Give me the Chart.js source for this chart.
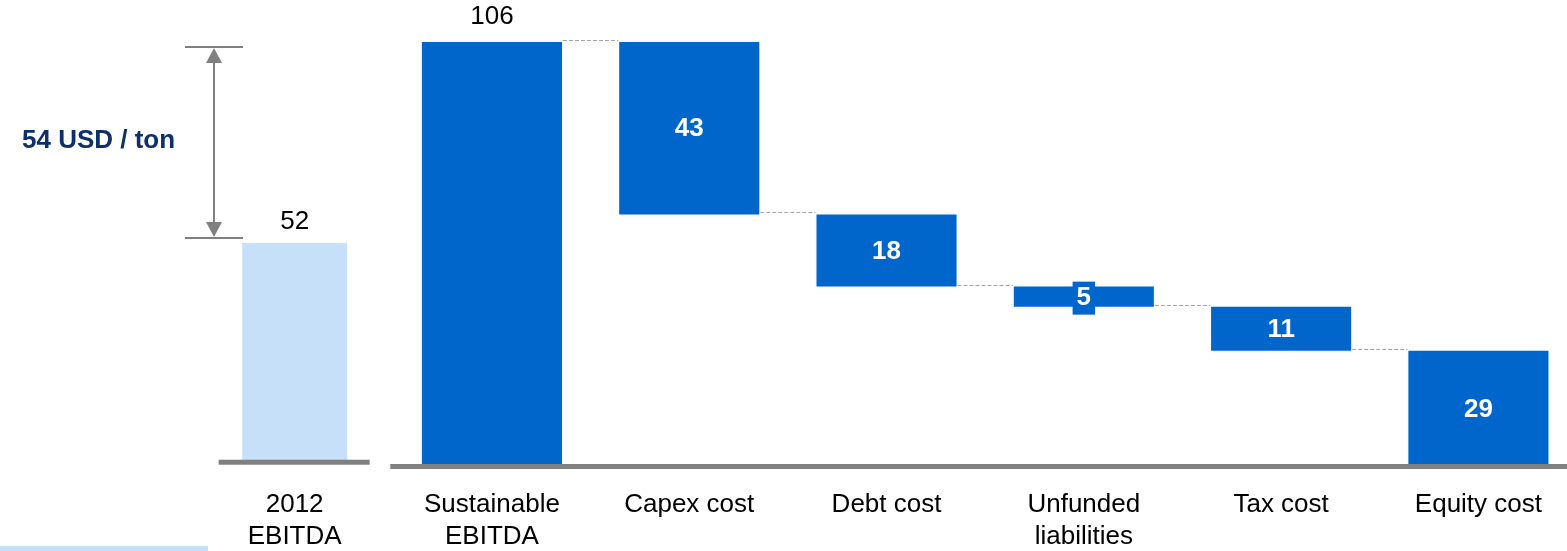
<!DOCTYPE html>
<html>
<head>
<meta charset="utf-8">
<script src="https://cdn.jsdelivr.net/npm/chart.js@4"></script>
<style>
  html, body { margin: 0; padding: 0; background: #fff; overflow: hidden; }
  #wrap { position: relative; width: 1567px; height: 551px; }
  #strip { position: absolute; left: 0; top: 546px; width: 208px; height: 5px; background: #c6e0fa; }
</style>
</head>
<body>
<div id="wrap">
  <canvas id="chart" width="1567" height="551"></canvas>
  <div id="strip"></div>
</div>
<script>
// === Data ===
const categories = [["2012", "EBITDA"], ["Sustainable", "EBITDA"], ["Capex cost"], ["Debt cost"], ["Unfunded", "liabilities"], ["Tax cost"], ["Equity cost"]];
const ebitda2012 = 52;
const sustainableEbitda = 106;
const costs = [43, 18, 5, 11, 29];
const gapLabel = "54 USD / ton";

const FONT = "'Liberation Sans', Arial, sans-serif";
const DARK = "#0066cc";
const LIGHT = "#c6e0fa";
const GREY = "#808080";

// floating ranges for the waterfall
let running = sustainableEbitda;
const waterfall = [{ x: 1, y: [0, sustainableEbitda] }];
costs.forEach((c, i) => {
  waterfall.push({ x: i + 2, y: [running - c, running] });
  running -= c;
});

const decor = {
  id: "decor",
  afterDatasetsDraw(chart) {
    const { ctx } = chart;
    const x = chart.scales.x, y = chart.scales.y, y2 = chart.scales.y2;
    const left = chart.getDatasetMeta(0).data[0];
    const bars = chart.getDatasetMeta(1).data;
    ctx.save();

    // base lines
    ctx.fillStyle = GREY;
    ctx.fillRect(left.x - 76, y2.getPixelForValue(0) - 1, 151, 5);
    ctx.fillRect(x.getPixelForValue(0.5) - 3, y.getPixelForValue(0) - 3, 1567, 5);

    // connectors
    ctx.strokeStyle = "#a6a6a6";
    ctx.lineWidth = 1;
    ctx.setLineDash([4, 2]);
    for (let i = 0; i < bars.length - 1; i++) {
      const lvl = i === 0 ? waterfall[0].y[1] : waterfall[i].y[0];
      const py = Math.round(y.getPixelForValue(lvl)) - 1.5;
      ctx.beginPath();
      ctx.moveTo(bars[i].x + bars[i].width / 2 + 1, py);
      ctx.lineTo(bars[i + 1].x - bars[i + 1].width / 2 - 1, py);
      ctx.stroke();
    }
    ctx.setLineDash([]);

    // value labels
    ctx.textAlign = "center";
    ctx.textBaseline = "middle";
    ctx.font = "26px " + FONT;
    ctx.fillStyle = "#000";
    ctx.fillText(String(ebitda2012), left.x, left.y - 21);
    ctx.fillText(String(sustainableEbitda), bars[0].x, bars[0].y - 25);
    ctx.font = "bold 26px " + FONT;
    costs.forEach((c, i) => {
      const b = bars[i + 1];
      const cy = (y.getPixelForValue(waterfall[i + 1].y[0]) + y.getPixelForValue(waterfall[i + 1].y[1])) / 2 + 1;
      const w = ctx.measureText(String(c)).width;
      if (b.height < 30) {
        ctx.fillStyle = DARK;
        ctx.fillRect(b.x - w / 2 - 4, cy - 16, w + 8, 33);
      }
      ctx.fillStyle = "#fff";
      ctx.fillText(String(c), b.x, cy);
    });

    // category labels
    ctx.font = "26px " + FONT;
    ctx.fillStyle = "#000";
    categories.forEach((lines, i) => {
      const cx = x.getPixelForValue(i);
      lines.forEach((t, j) => ctx.fillText(t, cx, 505 + j * 32));
    });

    // gap arrow
    const top = y.getPixelForValue(sustainableEbitda) + 5;
    const bot = y2.getPixelForValue(ebitda2012) - 5;
    const ax = 214;
    ctx.strokeStyle = GREY;
    ctx.fillStyle = GREY;
    ctx.lineWidth = 2;
    ctx.beginPath();
    ctx.moveTo(185, top); ctx.lineTo(243, top);
    ctx.moveTo(185, bot); ctx.lineTo(243, bot);
    ctx.moveTo(ax, top + 14); ctx.lineTo(ax, bot - 14);
    ctx.stroke();
    ctx.beginPath();
    ctx.moveTo(ax, top + 1); ctx.lineTo(ax - 8, top + 16); ctx.lineTo(ax + 8, top + 16); ctx.closePath();
    ctx.moveTo(ax, bot - 1); ctx.lineTo(ax - 8, bot - 16); ctx.lineTo(ax + 8, bot - 16); ctx.closePath();
    ctx.fill();

    ctx.font = "bold 26px " + FONT;
    ctx.fillStyle = "#0f2f6b";
    ctx.textAlign = "left";
    ctx.fillText(gapLabel, 22, 141);
    ctx.restore();
  }
};

new Chart(document.getElementById("chart"), {
  type: "bar",
  data: {
    datasets: [
      {
        label: "2012 EBITDA",
        data: [{ x: 0, y: ebitda2012 }],
        backgroundColor: LIGHT,
        yAxisID: "y2",
        barPercentage: 0.532,
        categoryPercentage: 1
      },
      {
        label: "Waterfall",
        data: waterfall,
        backgroundColor: DARK,
        yAxisID: "y",
        barPercentage: 0.71,
        categoryPercentage: 1
      }
    ]
  },
  options: {
    responsive: false,
    animation: false,
    layout: { padding: { left: 196, right: 0, top: 0, bottom: 84 } },
    plugins: { legend: { display: false }, tooltip: { enabled: false } },
    scales: {
      x: {
        type: "linear", min: -0.5, max: 6.449, offset: false, stacked: true, display: false,
        afterBuildTicks: s => { s.ticks = categories.map((c, i) => ({ value: i })); }
      },
      y: { min: 0, max: 116.5, display: false },
      y2: { min: -1.5, max: 110.1, display: false }
    }
  },
  plugins: [decor]
});
</script>
</body>
</html>
